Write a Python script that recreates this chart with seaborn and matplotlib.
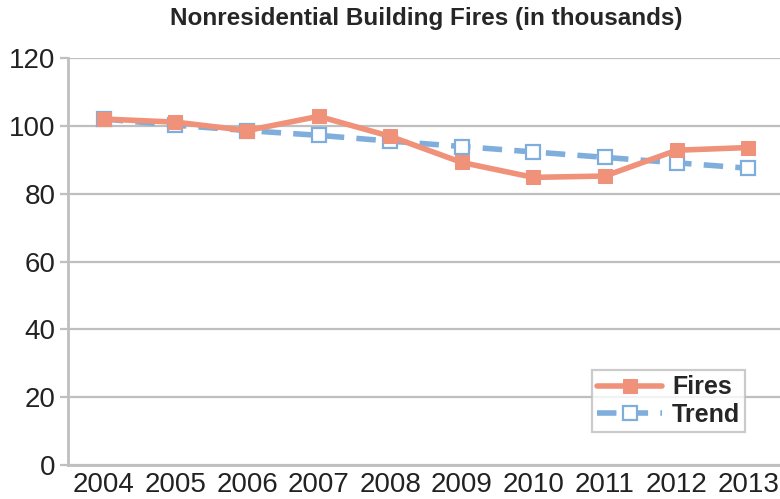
import matplotlib
matplotlib.use("Agg")
import matplotlib.pyplot as plt
import seaborn as sns
import pandas as pd
from matplotlib.ticker import FixedLocator

years = ["2004", "2005", "2006", "2007", "2008", "2009", "2010", "2011", "2012", "2013"]
fires = [102.0, 101.1, 98.6, 102.8, 96.9, 89.2, 84.8, 85.2, 92.8, 93.6]
trend = [102.0, 100.2, 98.6, 97.2, 95.5, 93.9, 92.3, 90.7, 89.1, 87.5]

df = pd.DataFrame({"x": range(len(years)), "Fires": fires, "Trend": trend})

sns.set_style("white")
plt.rcParams["font.family"] = ["Liberation Sans", "DejaVu Sans"]

fig = plt.figure(figsize=(7.8, 4.99), dpi=100)
ax = fig.add_axes([68 / 780, 1 - 465 / 499, 716 / 780, (465 - 58) / 499])

fire_c = "#F0917A"
trend_c = "#7FAEDD"
grid_c = "#BFBFBF"

sns.lineplot(data=df, x="x", y="Trend", ax=ax, color=trend_c, lw=4,
             dashes=False, linestyle=(0, (3.5, 2.2)), marker="s", markersize=10,
             markerfacecolor="white", markeredgecolor=trend_c, markeredgewidth=1.6,
             label="Trend", zorder=3)
sns.lineplot(data=df, x="x", y="Fires", ax=ax, color=fire_c, lw=4,
             marker="s", markersize=10, markerfacecolor=fire_c,
             markeredgecolor=fire_c, label="Fires", zorder=4)

ax.set_xlim(-0.5, len(years) - 0.5)
ax.set_ylim(0, 120)
ax.set_yticks(range(0, 121, 20))
ax.set_xticks(range(len(years)))
ax.set_xticklabels(years)
ax.xaxis.set_minor_locator(FixedLocator([i - 0.5 for i in range(len(years) + 1)]))
ax.yaxis.grid(True, color=grid_c, lw=1.6)
ax.set_axisbelow(True)
ax.set_xlabel("")
ax.set_ylabel("")

for s in ["top", "right"]:
    ax.spines[s].set_visible(False)
for s in ["left", "bottom"]:
    ax.spines[s].set_color(grid_c)
    ax.spines[s].set_linewidth(2)

ax.tick_params(axis="x", which="major", length=0, labelsize=20, pad=5, colors="#222222")
ax.tick_params(axis="x", which="minor", length=8, width=1.6, color=grid_c)
ax.tick_params(axis="y", length=6, width=1.6, color=grid_c, labelsize=20,
               labelcolor="#222222", pad=3, left=True)

handles, labels = ax.get_legend_handles_labels()
leg = ax.legend(handles[::-1], labels[::-1], loc="lower right",
                bbox_to_anchor=(0.946, 0.081), frameon=True, fancybox=False,
                prop={"weight": "bold", "size": 18}, handlelength=2.6,
                handletextpad=0.4, borderpad=0.2, labelspacing=0.15,
                borderaxespad=0)
leg.get_frame().set_edgecolor(grid_c)
leg.get_frame().set_linewidth(1.6)

fig.text(426 / 780, 1 - 18 / 499, "Nonresidential Building Fires (in thousands)",
         ha="center", va="center", fontsize=17.5, fontweight="bold",
         family=["Liberation Sans Narrow", "Liberation Sans", "DejaVu Sans"])

fig.savefig("out.png", dpi=100)
